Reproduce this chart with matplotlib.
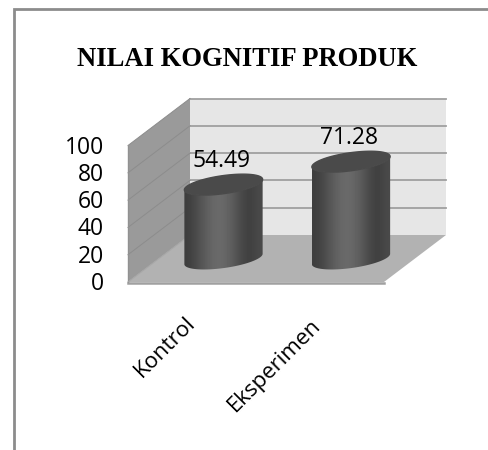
import matplotlib
matplotlib.use("Agg")
import matplotlib.pyplot as plt
import numpy as np
from matplotlib.patches import Polygon

categories = ["Kontrol", "Eksperimen"]
values = [54.49, 71.28]
value_labels = ["54.49", "71.28"]
ticks = [0, 20, 40, 60, 80, 100]

fig = plt.figure(figsize=(4.89, 4.5), dpi=100)
ax = fig.add_axes([0, 0, 1, 1])
ax.set_xlim(0, 489)
ax.set_ylim(450, 0)
ax.axis("off")

# value -> pixel height on the front/back plane
scale = 1.365
front_y0 = 282
back_y0 = 235
front_x0 = 128
back_x0 = 190
depth_w = 256


def front_y(v):
    return front_y0 - v * scale


def back_y(v):
    return back_y0 - v * scale


# outer frame, only top and left are in the crop
ax.plot([13.5, 13.5, 489], [450, 9, 9], color="#8c8c8c", lw=2, solid_joinstyle="miter")

# walls and floor
ax.add_patch(Polygon([(back_x0, back_y(100)), (back_x0 + depth_w, back_y(100)),
                      (back_x0 + depth_w, back_y0), (back_x0, back_y0)], fc="#e6e6e6", ec="none"))
ax.add_patch(Polygon([(front_x0, front_y(100)), (back_x0, back_y(100)),
                      (back_x0, back_y0), (front_x0, front_y0)], fc="#9a9a9a", ec="none"))
ax.add_patch(Polygon([(front_x0, front_y0), (back_x0, back_y0),
                      (back_x0 + depth_w, back_y0), (front_x0 + depth_w, front_y0)], fc="#b2b2b2", ec="none"))

for t in ticks[1:]:
    ax.plot([back_x0, back_x0 + depth_w], [back_y(t), back_y(t)], color="#a0a0a0", lw=1.3)
    ax.plot([front_x0, back_x0], [front_y(t), back_y(t)], color="#8c8c8c", lw=0.7)
ax.plot([front_x0, front_x0 + depth_w], [front_y0 + 0.5, front_y0 + 0.5], color="#a0a0a0", lw=1.8)
ax.plot([front_x0, front_x0], [front_y(100), front_y0], color="#919191", lw=1)
ax.plot([front_x0, back_x0], [front_y0, back_y0], color="#a6a6a6", lw=0.8)

# tick labels
for t in ticks:
    ax.text(104, front_y(t) + 2, str(t), ha="right", va="center", fontsize=16.5, family="Open Sans", color="black")

# cylinders
centers = [223.5, 351]
a = 39.5
b = 9
tilt = np.radians(-8)
base_y = 259
th = np.linspace(0, 2 * np.pi, 181)


def ellipse(cx, cy):
    x = cx + a * np.cos(th) * np.cos(tilt) - b * np.sin(th) * np.sin(tilt)
    y = cy + a * np.cos(th) * np.sin(tilt) + b * np.sin(th) * np.cos(tilt)
    return x, y


grad = np.array([0.24, 0.29, 0.35, 0.40, 0.42, 0.39, 0.34, 0.27, 0.25, 0.29]).reshape(1, -1)

for cx, v, lab in zip(centers, values, value_labels):
    top = base_y - v * scale
    xb, yb = ellipse(cx, base_y)
    xt, yt = ellipse(cx, top)
    # body outline is the lower part of the base ellipse closed through the top ellipse
    il, ir = np.argmin(xb), np.argmax(xb)
    idx = np.arange(min(il, ir), max(il, ir) + 1)
    if yb[idx].mean() < base_y:
        idx = np.r_[np.arange(max(il, ir), len(th)), np.arange(0, min(il, ir) + 1)]
    body = np.r_[np.c_[xb[idx], yb[idx]], np.c_[xt[idx], yt[idx]][::-1]]
    patch = Polygon(body, fc="none", ec="none")
    ax.add_patch(patch)
    im = ax.imshow(grad, extent=[cx - a, cx + a, base_y + 12, top - 12], cmap="gray", vmin=0, vmax=1,
                   aspect="auto", interpolation="bicubic", zorder=3)
    im.set_clip_path(patch)
    ax.fill(xt, yt, color="#4a4a4a", zorder=4)
    ax.text(cx - 2, top - 24, lab, ha="center", va="center", fontsize=16.5, family="Open Sans", color="black", zorder=5)

ax.set_xlim(0, 489)
ax.set_ylim(450, 0)

ax.text(247, 60, "NILAI KOGNITIF PRODUK", ha="center", va="center", fontsize=19.2, fontweight="bold",
        family="Liberation Serif", color="black")

label_pos = [(165, 347), (275, 365)]
for lab, (x, y) in zip(categories, label_pos):
    ax.text(x, y, lab, rotation=45, ha="center", va="center", rotation_mode="anchor", fontsize=16,
            family="Open Sans", color="black")

fig.savefig("out.png", dpi=100)
